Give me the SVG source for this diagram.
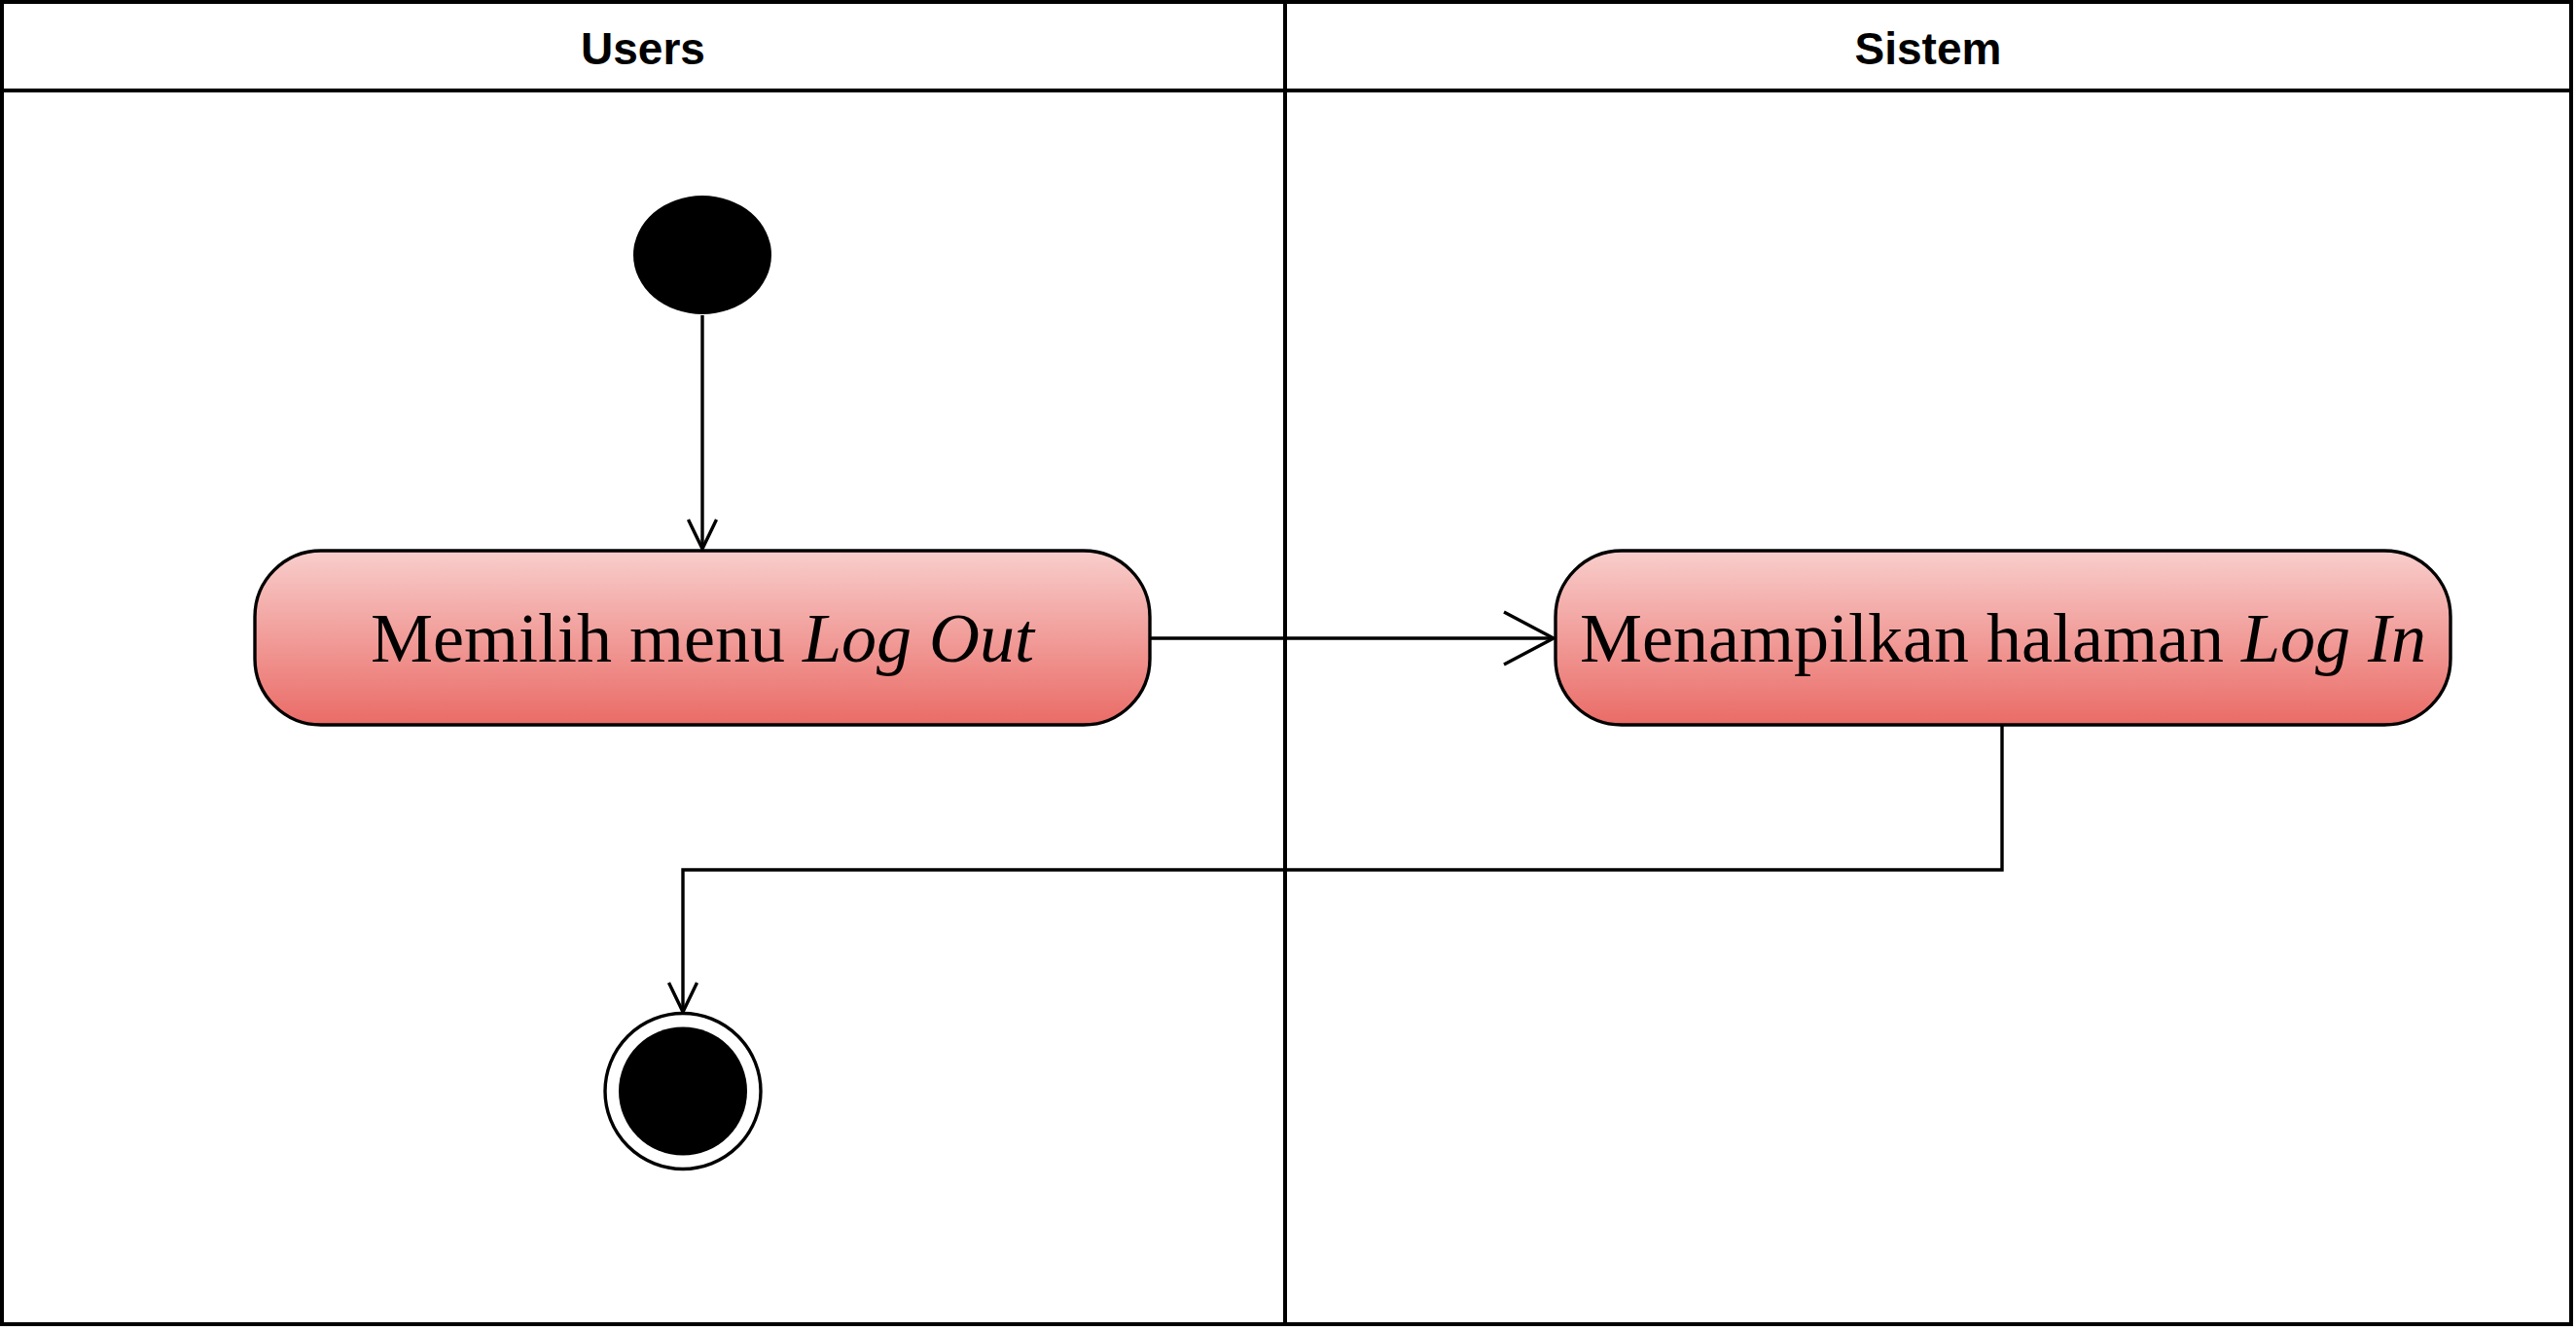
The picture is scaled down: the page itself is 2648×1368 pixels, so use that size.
<svg xmlns="http://www.w3.org/2000/svg" width="2648" height="1368" viewBox="0 0 2648 1368">
  <style>
    .lane { fill: none; stroke: #000; stroke-width: 4; }
    .hdr { font-family: "Liberation Sans", Arial, sans-serif; font-weight: bold; font-size: 46px; text-anchor: middle; fill: #000; }
    .act { fill: url(#redGrad); stroke: #000; stroke-width: 3.4; }
    .lbl { font-family: "Liberation Serif", "Times New Roman", serif; font-size: 72px; text-anchor: middle; fill: #000; }
    .edge { fill: none; stroke: #000; stroke-width: 3.4; }
    .head { fill: none; stroke: #000; stroke-width: 3.4; }
  </style>
  <defs>
    <linearGradient id="redGrad" x1="0" y1="0" x2="0" y2="1">
      <stop offset="0" stop-color="#f8cecc"/>
      <stop offset="1" stop-color="#ea6b66"/>
    </linearGradient>
    <marker id="arrS" markerUnits="userSpaceOnUse" markerWidth="40" markerHeight="40" refX="36" refY="20" orient="auto" overflow="visible">
      <path class="head" d="M6,5.5 L36,20 L6,34.5"/>
    </marker>
    <marker id="arrL" markerUnits="userSpaceOnUse" markerWidth="60" markerHeight="60" refX="55" refY="30" orient="auto" overflow="visible">
      <path class="head" d="M4,3 L55,30 L4,57"/>
    </marker>
  </defs>
  <rect width="2648" height="1368" fill="#ffffff"/>

  <g id="pool">
    <rect class="lane" x="2" y="2" width="2641" height="1359"/>
    <line class="lane" x1="2" y1="93" x2="2643" y2="93"/>
    <line class="lane" x1="1321" y1="2" x2="1321" y2="1361"/>
  </g>
  <g id="lane-users">
    <text class="hdr" x="661" y="66">Users</text>
  </g>
  <g id="lane-sistem">
    <text class="hdr" x="1982" y="66">Sistem</text>
  </g>

  <g id="connectors">
    <path class="edge" d="M722,324 L722,564" marker-end="url(#arrS)"/>
    <path class="edge" d="M1182,656 L1597,656" marker-end="url(#arrL)"/>
    <path class="edge" d="M2058,745 L2058,894 L702,894 L702,1040" marker-end="url(#arrS)"/>
  </g>

  <g id="start">
    <ellipse cx="722" cy="262" rx="71" ry="61" fill="#000"/>
  </g>

  <g id="act-logout">
    <rect class="act" x="262" y="566" width="920" height="179" rx="68" ry="68"/>
    <text class="lbl" x="722" y="680">Memilih menu <tspan font-style="italic">Log Out</tspan></text>
  </g>

  <g id="act-login">
    <rect class="act" x="1599" y="566" width="920" height="179" rx="68" ry="68"/>
    <text class="lbl" x="2059" y="680">Menampilkan halaman <tspan font-style="italic">Log In</tspan></text>
  </g>

  <g id="end">
    <circle cx="702" cy="1121.5" r="80" fill="#fff" stroke="#000" stroke-width="3.4"/>
    <circle cx="702" cy="1121.5" r="66" fill="#000"/>
  </g>
</svg>
